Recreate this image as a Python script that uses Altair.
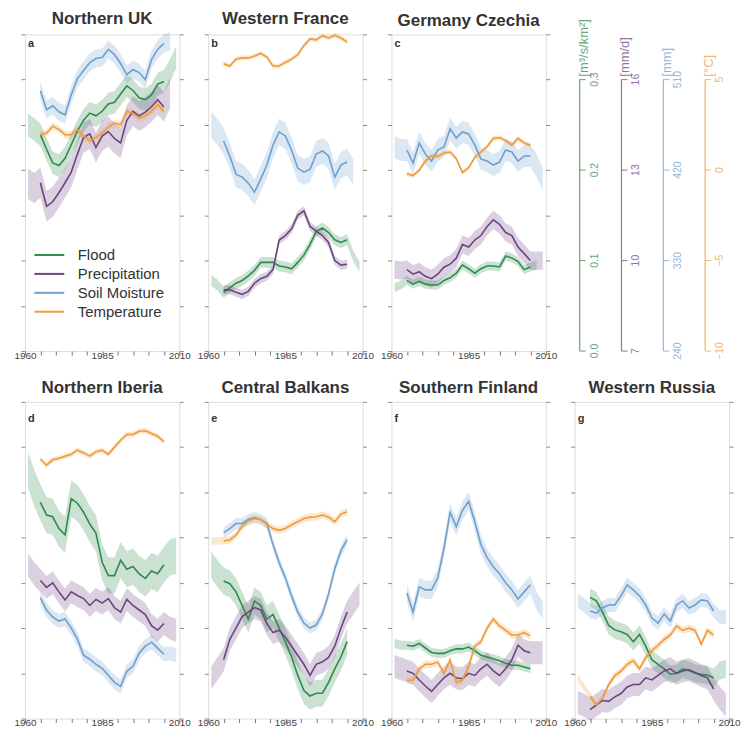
import altair as alt
import pandas as pd

# ---------------- data ----------------
YEARS = list(range(1961, 2010, 2))          # 25 time steps
LINE_FIRST, LINE_LAST = 1965, 2005           # line drawn only here, bands wider

REGIONS = ["Northern UK", "Western France", "Germany Czechia", "Northern Iberia",
           "Central Balkans", "Southern Finland", "Western Russia"]
LETTERS = ["a", "b", "c", "d", "e", "f", "g"]
VARS = ["Flood", "Precipitation", "Soil Moisture", "Temperature"]
COLORS = ["#2e8a4f", "#6b4580", "#6f9fcb", "#f09a3a"]

# Flood [m3/s/km2]
FLOOD = {
    "Northern UK": [0.250, 0.245, 0.239, 0.223, 0.208, 0.205, 0.213, 0.228, 0.243, 0.255, 0.263, 0.260, 0.265,
                    0.273, 0.275, 0.284, 0.293, 0.288, 0.280, 0.278, 0.283, 0.295, 0.298, 0.310, 0.325],
    "Western France": [0.078, 0.073, 0.065, 0.070, 0.075, 0.078, 0.083, 0.089, 0.098, 0.098, 0.098, 0.094, 0.093,
                       0.091, 0.098, 0.106, 0.118, 0.132, 0.136, 0.131, 0.123, 0.120, 0.123, 0.105, 0.093],
    "Germany Czechia": [0.070, 0.073, 0.078, 0.074, 0.077, 0.074, 0.073, 0.073, 0.078, 0.081, 0.086, 0.095, 0.091,
                        0.086, 0.091, 0.094, 0.094, 0.093, 0.105, 0.103, 0.099, 0.090, 0.093, 0.095, None],
    "Northern Iberia": [0.275, 0.255, 0.239, 0.225, 0.223, 0.210, 0.203, 0.243, 0.238, 0.228, 0.215, 0.205, 0.173,
                        0.158, 0.158, 0.175, 0.165, 0.168, 0.160, 0.155, 0.163, 0.160, 0.170, 0.178, 0.180],
    "Central Balkans": [0.170, 0.160, 0.152, 0.149, 0.140, 0.125, 0.110, 0.130, 0.125, 0.110, 0.115, 0.100, 0.085,
                        0.068, 0.048, 0.031, 0.025, 0.028, 0.028, 0.040, 0.055, 0.068, 0.085, None, None],
    "Southern Finland": [0.083, 0.081, 0.081, 0.080, 0.083, 0.078, 0.073, 0.072, 0.072, 0.075, 0.077, 0.077, 0.079,
                         0.075, 0.070, 0.068, 0.066, 0.064, 0.061, 0.059, 0.059, 0.057, 0.055, None, None],
    "Western Russia": [None, None, 0.134, 0.130, 0.118, 0.103, 0.098, 0.096, 0.093, 0.085, 0.093, 0.080, 0.065,
                       0.060, 0.055, 0.049, 0.050, 0.055, 0.053, 0.050, 0.049, 0.048, 0.045, 0.053, 0.055],
}
# Precipitation [mm/d]
PRECIP = {
    "Northern UK": [12.55, 12.4, 12.58, 11.8, 11.95, 12.25, 12.58, 12.93, 13.53, 14.08, 14.2, 13.75, 14.13,
                    14.28, 14.05, 13.9, 14.65, 14.95, 14.8, 14.92, 15.1, 15.33, 15.1, 15.55, None],
    "Western France": [None, None, 9.03, 9.03, 8.95, 8.88, 8.98, 9.25, 9.4, 9.48, 9.7, 10.68, 10.83,
                       11.05, 11.5, 11.65, 11.13, 10.98, 10.83, 10.6, 10.0, 9.85, 9.88, None, None],
    "Germany Czechia": [9.7, 9.67, 9.7, 9.55, 9.63, 9.48, 9.4, 9.55, 9.78, 9.88, 10.08, 10.53, 10.45,
                        10.68, 10.83, 11.13, 11.35, 11.2, 10.93, 10.83, 10.45, 10.23, 10.0, 10.0, 10.0],
    "Northern Iberia": [12.1, 11.8, 11.58, 11.35, 11.5, 11.2, 10.93, 11.2, 11.08, 10.98, 10.75, 10.95, 10.83,
                        10.98, 10.68, 10.53, 10.95, 10.75, 10.6, 10.45, 10.08, 9.93, 10.15, 10.0, 9.93],
    "Central Balkans": [8.35, 8.65, 8.95, 9.63, 10.0, 10.38, 10.53, 10.68, 10.6, 10.15, 9.85, 9.93, 9.7,
                        9.4, 9.1, 8.8, 8.43, 8.8, 8.88, 9.03, 9.4, 10.0, 10.53, 10.83, 11.13],
    "Southern Finland": [8.73, 8.65, 8.58, 8.5, 8.28, 8.08, 7.9, 8.13, 8.35, 8.5, 8.35, 8.32, 8.5,
                         8.43, 8.65, 8.8, 8.58, 8.43, 8.65, 8.95, 9.43, 9.25, 9.18, 9.18, 9.18],
    "Western Russia": [7.53, 7.45, 7.3, 7.45, 7.6, 7.57, 7.72, 7.83, 8.05, 8.13, 8.13, 8.35, 8.28,
                       8.43, 8.58, 8.65, 8.5, 8.58, 8.62, 8.53, 8.43, 8.35, 7.98, 7.68, 7.45],
}
# Soil moisture [mm]
SOIL = {
    "Northern UK": [None, None, 499, 480, 484, 478, 475, 495, 511, 519, 527, 531, 532,
                    540, 535, 526, 515, 520, 517, 510, 530, 540, 546, 548, None],
    "Western France": [465, 458, 449, 434, 416, 413, 407, 398, 411, 425, 445, 458, 454,
                       440, 422, 418, 421, 436, 439, 434, 413, 425, 428, 418, None],
    "Germany Czechia": [443, 440, 440, 427, 447, 436, 429, 440, 443, 461, 452, 458, 456,
                        445, 431, 429, 425, 428, 440, 438, 429, 434, 434, 425, 411],
    "Northern Iberia": [None, None, 360, 348, 341, 337, 339, 330, 319, 303, 299, 294, 290,
                        283, 276, 272, 287, 292, 305, 312, 316, 310, 304, 305, 303],
    "Central Balkans": [None, None, 425, 429, 434, 434, 438, 440, 438, 434, 413, 395, 380,
                        362, 346, 335, 330, 333, 344, 364, 389, 407, 418, None, None],
    "Southern Finland": [None, None, 365, 346, 371, 368, 368, 380, 409, 445, 431, 447, 456,
                         436, 413, 400, 391, 384, 375, 368, 359, 366, 373, 357, 348],
    "Western Russia": [357, 353, 347, 345, 350, 353, 353, 362, 373, 368, 362, 353, 340,
                       335, 344, 337, 353, 357, 350, 353, 358, 357, 347, 341, 341],
}
# Temperature [degC]
TEMP = {
    "Northern UK": [None, None, 1.95, 2.05, 2.43, 2.25, 1.95, 1.95, 2.25, 1.88, 1.63, 1.8, 2.05,
                    2.38, 2.6, 2.5, 3.25, 3.13, 2.88, 3.0, 3.25, 3.63, 3.25, None, None],
    "Western France": [None, None, 5.88, 5.75, 6.13, 6.2, 6.2, 6.3, 6.45, 6.25, 5.75, 5.75, 5.95,
                       6.13, 6.38, 6.88, 7.25, 7.2, 7.43, 7.3, 7.45, 7.3, 7.08, None, None],
    "Germany Czechia": [None, None, -0.2, -0.3, 0.0, 0.5, 0.8, 0.75, 0.95, 1.0, 0.63, -0.13, 0.13,
                        0.7, 1.0, 1.3, 1.75, 1.8, 1.63, 1.38, 1.75, 1.5, 1.38, None, None],
    "Northern Iberia": [None, None, 4.33, 4.0, 4.3, 4.38, 4.5, 4.6, 4.83, 4.68, 4.5, 4.75, 4.83,
                        4.6, 5.0, 5.38, 5.7, 5.7, 5.88, 5.9, 5.75, 5.6, 5.3, None, None],
    "Central Balkans": [-0.2, -0.18, -0.18, -0.13, 0.13, 0.63, 0.93, 1.05, 1.0, 0.75, 0.5, 0.4, 0.5,
                        0.7, 0.88, 1.05, 1.13, 1.15, 1.25, 1.13, 0.88, 1.3, 1.43, None, None],
    "Southern Finland": [None, None, -7.88, -7.88, -7.25, -7.0, -7.0, -6.88, -7.5, -6.75, -8.0, -7.88, -7.13,
                         -6.0, -5.75, -5.0, -4.5, -4.88, -5.13, -5.38, -5.38, -5.25, -5.43, None, None],
    "Western Russia": [-7.75, -8.25, -8.75, -9.25, -8.88, -8.13, -7.63, -7.38, -7.0, -6.8, -7.25, -6.63, -6.25,
                       -5.95, -5.63, -5.38, -4.88, -5.13, -5.0, -5.13, -5.88, -5.13, -5.38, None, None],
}
# half-width of the uncertainty band (flood, precip, soil, temp)
BAND = {
    "Northern UK": [0.0125, 0.5, 9, 0.2],
    "Western France": [0.006, 0.15, 13, 0.13],
    "Germany Czechia": [0.005, 0.3, 11, 0.13],
    "Northern Iberia": [0.02, 0.38, 7, 0.15],
    "Central Balkans": [0.015, 0.38, 5.5, 0.2],
    "Southern Finland": [0.005, 0.38, 9, 0.2],
    "Western Russia": [0.01, 0.38, 7, 0.2],
}

# scale bar panel
AXIS_TICKS = {
    "Flood": [0.0, 0.1, 0.2, 0.3],
    "Precipitation": [7, 10, 13, 16],
    "Soil Moisture": [240, 330, 420, 510],
    "Temperature": [-10, -5, 0, 5],
}
AXIS_LABELS = {
    "Flood": ["0.0", "0.1", "0.2", "0.3"],
    "Precipitation": ["7", "10", "13", "16"],
    "Soil Moisture": ["240", "330", "420", "510"],
    "Temperature": ["\u221210", "\u22125", "0", "5"],
}
AXIS_UNITS = {"Flood": "[m\u00b3/s/km\u00b2]", "Precipitation": "[mm/d]",
              "Soil Moisture": "[mm]", "Temperature": "[\u00b0C]"}
YEAR_TICKS = list(range(1960, 2011, 5))
YEAR_LABELS = [1960, 1985, 2010]

SERIES = {"Flood": FLOOD, "Precipitation": PRECIP, "Soil Moisture": SOIL, "Temperature": TEMP}


def norm(var, v):
    t = AXIS_TICKS[var]
    return 2.0 * (v - t[0]) / (t[1] - t[0])


rows = []
for region in REGIONS:
    for k, var in enumerate(VARS):
        hw = BAND[region][k]
        for yr, v in zip(YEARS, SERIES[var][region]):
            if v is None:
                continue
            rows.append({"region": region, "var": var, "year": yr,
                         "u": norm(var, v), "lo": norm(var, v - hw), "hi": norm(var, v + hw),
                         "inline": LINE_FIRST <= yr <= LINE_LAST})
df = pd.DataFrame(rows)

tick_rows, line_rows, unit_rows = [], [], []
for var in VARS:
    for val, lab in zip(AXIS_TICKS[var], AXIS_LABELS[var]):
        tick_rows.append({"var": var, "u": norm(var, val), "label": lab})
    line_rows.append({"var": var, "u0": norm(var, AXIS_TICKS[var][0]), "u1": norm(var, AXIS_TICKS[var][-1])})
    unit_rows.append({"var": var, "u": norm(var, AXIS_TICKS[var][-1]), "unit": AXIS_UNITS[var]})
ticks_df = pd.DataFrame(tick_rows)
lines_df = pd.DataFrame(line_rows)
units_df = pd.DataFrame(unit_rows)

# ---------------- chart ----------------
FONT = "Liberation Sans"
W, H = 155, 318
yscale = alt.Scale(domain=[0, 7], nice=False, zero=False)
xscale = alt.Scale(domain=[1960, 2010], nice=False, zero=False)
cscale = alt.Scale(domain=VARS, range=COLORS)

# minor ticks (no labels) and labelled years as two bottom axes
x_ticks_axis = alt.Axis(values=YEAR_TICKS, labels=False, tickSize=4, domain=False, grid=False,
                        orient="bottom", tickColor="#777", title=None)
x_label_axis = alt.Axis(values=YEAR_LABELS, format="d", tickSize=0, labelFontSize=10, labelPadding=-1,
                        domain=False, grid=False, labelFlush=False, labelOverlap=False, orient="bottom",
                        labelColor="#444", labelFont=FONT, title=None)
y_left = alt.Axis(values=list(range(0, 8)), labels=False, tickSize=4, domain=False, grid=False,
                  orient="left", tickColor="#888", title=None)
y_right = alt.Axis(values=list(range(0, 8)), labels=False, tickSize=4, domain=False, grid=False,
                   orient="right", tickColor="#888", title=None)

# short line symbol drawn by a custom path (keeps the legend rows compact)
legend = alt.Legend(title=None, orient="none", legendX=17, legendY=214, direction="vertical",
                    symbolType="M-3,0H3", symbolSize=100, symbolStrokeWidth=2, labelFontSize=15,
                    labelOffset=21, rowPadding=3, labelColor="#333", labelFont=FONT)


def panel(i):
    region = REGIONS[i]
    d = df[df.region == region]
    bands = alt.Chart(d).mark_area(opacity=0.25).encode(
        x=alt.X("year:Q", scale=xscale, axis=x_ticks_axis),
        y=alt.Y("lo:Q", scale=yscale, axis=y_left),
        y2="hi:Q",
        fill=alt.Fill("var:N", scale=cscale, legend=None),
    )
    lines = alt.Chart(d[d.inline]).mark_line(strokeWidth=1.6).encode(
        x=alt.X("year:Q", scale=xscale, axis=x_label_axis),
        y=alt.Y("u:Q", scale=yscale, axis=y_right),
        color=alt.Color("var:N", scale=cscale, legend=legend if i == 0 else None),
    )
    tag_y = 6.78 if i < 3 else 6.63
    tag = alt.Chart(pd.DataFrame({"tag": [LETTERS[i]]})).mark_text(
        align="left", baseline="middle", fontSize=11, fontWeight="bold", color="#333", font=FONT
    ).encode(x=alt.XDatum(1961.0, axis=None), y=alt.YDatum(tag_y, axis=None), text="tag:N")
    return alt.layer(bands, lines, tag).resolve_axis(x="independent", y="independent").properties(
        width=W, height=H,
        title=alt.TitleParams(region, fontSize=17, fontWeight="bold", font=FONT, color="#333", offset=4),
    )


def scale_panel():
    xa = alt.X("var:N", scale=alt.Scale(type="point", domain=VARS, padding=0.12), axis=None)
    rule = alt.Chart(lines_df).mark_rule(strokeWidth=1.2, opacity=0.75).encode(
        x=xa, y=alt.Y("u0:Q", scale=yscale, axis=None), y2="u1:Q",
        stroke=alt.Stroke("var:N", scale=cscale, legend=None))
    ticks = alt.Chart(ticks_df).mark_tick(orient="horizontal", size=6, thickness=1, xOffset=3, opacity=0.75).encode(
        x=xa, y=alt.Y("u:Q", scale=yscale, axis=None),
        fill=alt.Fill("var:N", scale=cscale, legend=None))
    labels = alt.Chart(ticks_df).mark_text(angle=270, align="center", baseline="middle", dy=15,
                                           fontSize=10.5, font=FONT, opacity=0.75).encode(
        x=xa, y=alt.Y("u:Q", scale=yscale, axis=None), text="label:N",
        fill=alt.Fill("var:N", scale=cscale, legend=None))
    units = alt.Chart(units_df).mark_text(angle=270, align="left", baseline="middle", dx=3, dy=4,
                                          fontSize=13, font=FONT, opacity=0.75).encode(
        x=xa, y=alt.Y("u:Q", scale=yscale, axis=None), text="unit:N",
        fill=alt.Fill("var:N", scale=cscale, legend=None))
    return alt.layer(rule, ticks, labels, units).properties(
        width=136, height=H, view=alt.ViewBackground(strokeOpacity=0))


charts = [panel(0), panel(1), panel(2), scale_panel(), panel(3), panel(4), panel(5), panel(6)]

chart = alt.concat(*charts, columns=4, spacing={"row": 51, "column": 29}, bounds="flush").properties(
    padding={"left": 5, "top": 0, "right": 0, "bottom": 0}
).resolve_legend(color="independent").configure_view(stroke="#999", strokeWidth=1).configure(font=FONT)

chart.save("out.html", embed_options={"renderer": "svg", "actions": False})
